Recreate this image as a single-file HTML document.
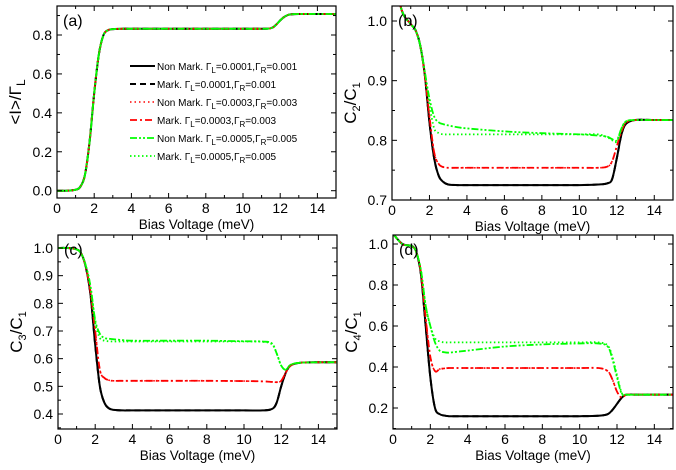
<!DOCTYPE html>
<html><head><meta charset="utf-8"><style>
body{margin:0;background:#fff}
svg{display:block;font-family:"Liberation Sans",Arial,sans-serif}
</style></head><body>
<svg id="chart" width="676" height="470" viewBox="0 0 676 470" xmlns="http://www.w3.org/2000/svg"></svg>
<script>
const volts=[0,0.5,1,1.25,1.5,1.75,2,2.25,2.5,2.75,3,3.5,4,6,8,10,11,11.5,11.75,12,12.25,12.5,13,14,15];
const aAll=[0,0,0.005,0.02,0.08,0.25,0.5,0.7,0.8,0.825,0.83,0.832,0.832,0.832,0.832,0.832,0.832,0.835,0.85,0.875,0.895,0.905,0.908,0.908,0.908];
const bBlack=[1.1,1.02,0.995,0.985,0.96,0.91,0.83,0.77,0.74,0.73,0.726,0.725,0.725,0.725,0.725,0.725,0.726,0.728,0.735,0.77,0.81,0.828,0.834,0.834,0.834];
const bRed=[1.1,1.02,0.995,0.985,0.96,0.91,0.84,0.78,0.76,0.755,0.754,0.754,0.754,0.754,0.754,0.754,0.754,0.756,0.765,0.79,0.815,0.83,0.834,0.834,0.834];
const bGreenNM=[1.1,1.02,0.995,0.985,0.96,0.915,0.87,0.84,0.83,0.827,0.825,0.822,0.82,0.815,0.812,0.81,0.808,0.806,0.802,0.8,0.82,0.832,0.834,0.834,0.834];
const bGreenM=[1.1,1.02,0.995,0.985,0.96,0.915,0.86,0.82,0.812,0.81,0.81,0.81,0.81,0.81,0.81,0.81,0.81,0.805,0.8,0.798,0.82,0.832,0.834,0.834,0.834];
const cBlack=[1.0,1.0,0.995,0.98,0.93,0.83,0.65,0.5,0.44,0.42,0.415,0.413,0.413,0.413,0.413,0.413,0.413,0.418,0.44,0.5,0.55,0.575,0.585,0.587,0.587];
const cRed=[1.0,1.0,0.995,0.98,0.93,0.84,0.7,0.56,0.53,0.522,0.52,0.52,0.52,0.52,0.52,0.519,0.518,0.516,0.515,0.52,0.55,0.575,0.585,0.587,0.587];
const cGreenNM=[1.0,1.0,0.995,0.98,0.935,0.86,0.74,0.69,0.675,0.672,0.67,0.667,0.665,0.665,0.665,0.663,0.662,0.655,0.62,0.575,0.56,0.578,0.585,0.587,0.587];
const cGreenM=[1.0,1.0,0.995,0.98,0.935,0.86,0.73,0.675,0.665,0.663,0.662,0.662,0.662,0.662,0.662,0.662,0.661,0.652,0.62,0.575,0.56,0.578,0.585,0.587,0.587];
const dBlack=[1.05,1.0,0.99,0.96,0.85,0.6,0.35,0.2,0.17,0.163,0.16,0.16,0.16,0.16,0.16,0.16,0.162,0.17,0.19,0.22,0.25,0.265,0.265,0.265,0.265];
const dRed=[1.05,1.0,0.99,0.96,0.86,0.64,0.45,0.38,0.39,0.393,0.395,0.395,0.395,0.395,0.395,0.395,0.395,0.38,0.34,0.28,0.25,0.265,0.265,0.265,0.265];
const dGreenNM=[1.05,1.0,0.99,0.96,0.87,0.7,0.6,0.52,0.48,0.472,0.47,0.475,0.48,0.5,0.51,0.515,0.515,0.5,0.44,0.35,0.27,0.265,0.265,0.265,0.265];
const dGreenM=[1.05,1.0,0.99,0.96,0.87,0.7,0.6,0.54,0.525,0.52,0.52,0.52,0.52,0.52,0.52,0.52,0.52,0.505,0.45,0.36,0.275,0.265,0.265,0.265,0.265];

const NS="http://www.w3.org/2000/svg";
const svg=document.getElementById('chart');
function mk(t,a,p){const e=document.createElementNS(NS,t);for(const k in a)e.setAttribute(k,a[k]);(p||svg).appendChild(e);return e;}
const styles={
 blackSolid:{stroke:'#000',dash:'',w:2},
 blackDash:{stroke:'#000',dash:'6,4',w:2},
 redDot:{stroke:'#f00',dash:'1.5,3',w:1.6},
 redDashDot:{stroke:'#f00',dash:'7,3,2,3',w:1.8},
 greenDDD:{stroke:'#0f0',dash:'7,2,2,2,2,2',w:1.8},
 greenDot:{stroke:'#0f0',dash:'1.5,2.5',w:1.8}
};
function path(pts){let d='M'+pts[0][0]+','+pts[0][1];for(let i=0;i<pts.length-1;i++){const p0=pts[Math.max(0,i-1)],p1=pts[i],p2=pts[i+1],p3=pts[Math.min(pts.length-1,i+2)];
 d+=' C'+(p1[0]+(p2[0]-p0[0])/6)+','+(p1[1]+(p2[1]-p0[1])/6)+' '+(p2[0]-(p3[0]-p1[0])/6)+','+(p2[1]-(p3[1]-p1[1])/6)+' '+p2[0]+','+p2[1];}return d;}
function panel(id,L,R,T,B,y0v,y0p,y1v,y1p,ymaj,ymin,yFmt,label,yTitle,series){
 const g=mk('g',{});
 
 
 const sx=v=>L+(v/15)*(R-L);
 const sy=v=>y0p+(v-y0v)*(y1p-y0p)/(y1v-y0v);
 const cp=mk('clipPath',{id:'cl'+id},g);mk('rect',{x:L,y:T,width:R-L,height:B-T},cp);
 const sg=mk('g',{'clip-path':'url(#cl'+id+')'},g);
 series.forEach(s=>{const st=styles[s.style];
  const p=mk('path',{d:path(volts.map((v,i)=>[sx(v),sy(s.data[i])])),fill:'none',stroke:st.stroke,'stroke-width':st.w,'stroke-dasharray':st.dash},sg);
  
  });
 const box=mk('rect',{x:L,y:T,width:R-L,height:B-T,fill:'none',stroke:'#000','stroke-width':1.2},g);
 
 
 for(let v=0;v<=15;v++){const x=sx(v),len=v%2?3:5;
  mk('line',{x1:x,x2:x,y1:B,y2:B-len,stroke:'#000'},g);mk('line',{x1:x,x2:x,y1:T,y2:T+len,stroke:'#000'},g);
  if(v%2===0){const t=mk('text',{x:x,y:B+15,'font-size':14,'text-anchor':'middle'},g);t.textContent=v;
   }}
 const lo=Math.min(y0v,y1v)-1,hi=Math.max(y0v,y1v)+1;
 for(let k=Math.round(lo/ymin);k*ymin<=hi;k++){const v=k*ymin,y=sy(v);if(y<T-0.5||y>B+0.5)continue;
  const maj=Math.abs(v/ymaj-Math.round(v/ymaj))<1e-6,len=maj?5:3;
  mk('line',{x1:L,x2:L+len,y1:y,y2:y,stroke:'#000'},g);mk('line',{x1:R,x2:R-len,y1:y,y2:y,stroke:'#000'},g);
  if(maj){const t=mk('text',{x:L-5,y:y+5,'font-size':14,'text-anchor':'end'},g);t.textContent=v.toFixed(yFmt);
   }}
 const xt=mk('text',{x:(L+R)/2,y:B+31,'font-size':13.5,'text-anchor':'middle'},g);xt.textContent='Bias Voltage (meV)';
 
 const yt=mk('text',{x:0,y:0,'font-size':17,'text-anchor':'middle',transform:'translate('+(L-36)+','+((T+B)/2)+') rotate(-90)'},g);
 yt.innerHTML=yTitle;
 
 const pl=mk('text',{x:L+6,y:T+20,'font-size':16},g);pl.textContent=label;
 
}
function six(b,r,g1,g2){return [{name:'nonmark-0001',style:'blackSolid',data:b},{name:'mark-0001',style:'blackDash',data:b},{name:'nonmark-0003',style:'redDot',data:r},{name:'mark-0003',style:'redDashDot',data:r},{name:'nonmark-0005',style:'greenDDD',data:g1},{name:'mark-0005',style:'greenDot',data:g2}];}
panel('a',57,336,6,198,0,190.7,0.8,35,0.2,0.1,1,'(a)','&lt;I&gt;/Γ<tspan font-size="12" dy="4">L</tspan>',six(aAll,aAll,aAll,aAll));
panel('b',392,673,6,200,0.7,200,1.0,21,0.1,0.05,1,'(b)','C<tspan font-size="11" dy="4">2</tspan><tspan dy="-4">/C</tspan><tspan font-size="11" dy="4">1</tspan>',six(bBlack,bRed,bGreenNM,bGreenM));
panel('c',58,337,235,429,0.4,414,1.0,248,0.1,0.05,1,'(c)','C<tspan font-size="11" dy="4">3</tspan><tspan dy="-4">/C</tspan><tspan font-size="11" dy="4">1</tspan>',six(cBlack,cRed,cGreenNM,cGreenM));
panel('d',393,673,235,429,0.2,408,1.0,244,0.2,0.1,1,'(d)','C<tspan font-size="11" dy="4">4</tspan><tspan dy="-4">/C</tspan><tspan font-size="11" dy="4">1</tspan>',six(dBlack,dRed,dGreenNM,dGreenM));

const legRows=[['blackSolid','Non Mark. ','0.0001','0.001'],['blackDash','Mark. ','0.0001','0.001'],['redDot','Non Mark. ','0.0003','0.003'],['redDashDot','Mark. ','0.0003','0.003'],['greenDDD','Non Mark. ','0.0005','0.005'],['greenDot','Mark. ','0.0005','0.005']];
const lg=mk('g',{});


legRows.forEach((r,i)=>{const y=66+i*18,st=styles[r[0]];
 const e=mk('g',{},lg);
 
 
 mk('line',{x1:130,x2:155,y1:y,y2:y,stroke:st.stroke,'stroke-width':st.w,'stroke-dasharray':st.dash},e);
 const t=mk('text',{x:157,y:y+4,'font-size':10},e);
 t.innerHTML=r[1]+'Γ<tspan font-size="8" dy="3">L</tspan><tspan dy="-3">='+r[2]+',Γ</tspan><tspan font-size="8" dy="3">R</tspan><tspan dy="-3">='+r[3]+'</tspan>';});
</script>
</body></html>
